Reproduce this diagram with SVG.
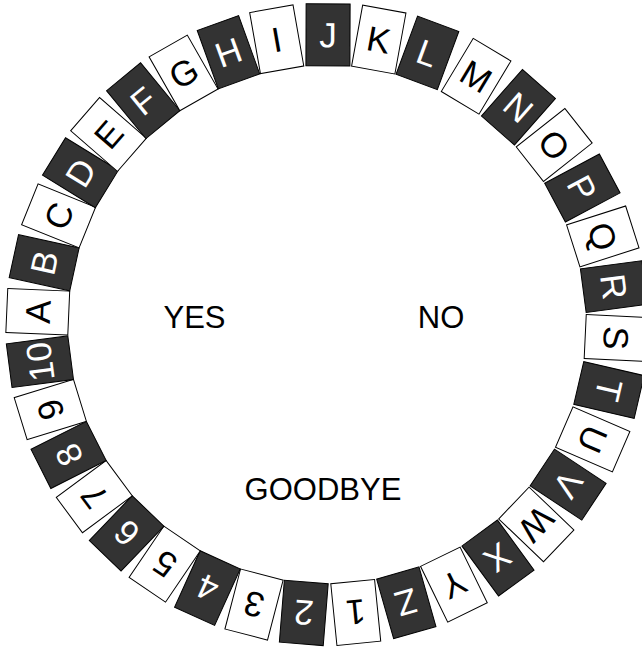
<svg xmlns="http://www.w3.org/2000/svg" width="642" height="647" viewBox="0 0 642 647">
<style>
.d rect,.l rect{stroke:#000;stroke-width:1}
.d rect{fill:#333}
.l rect{fill:#fff}
text{font-family:"Liberation Sans",Arial,sans-serif;text-anchor:middle}
.d text{fill:#fff;font-size:35px}
.l text{fill:#000;font-size:35px}
.c{fill:#000;font-size:31px}
</style>
<rect x="0" y="0" width="642" height="647" fill="#fff"/>
<g id="ring" transform="translate(327 324.4)">
<g id="node-J" class="d" transform="rotate(0.2)"><rect x="-22" y="-320.5" width="44" height="62"/><text y="-277">J</text></g>
<g id="node-K" class="l" transform="rotate(10.3)"><rect x="-22" y="-320.5" width="44" height="62"/><text y="-277">K</text></g>
<g id="node-L" class="d" transform="rotate(20.3)"><rect x="-22" y="-320.5" width="44" height="62"/><text y="-277">L</text></g>
<g id="node-M" class="l" transform="rotate(31)"><rect x="-22" y="-320.5" width="44" height="62"/><text y="-277">M</text></g>
<g id="node-N" class="d" transform="rotate(41.4)"><rect x="-22" y="-320.5" width="44" height="62"/><text y="-277">N</text></g>
<g id="node-O" class="l" transform="rotate(51.7)"><rect x="-22" y="-320.5" width="44" height="62"/><text y="-277">O</text></g>
<g id="node-P" class="d" transform="rotate(61.9)"><rect x="-22" y="-320.5" width="44" height="62"/><text y="-277">P</text></g>
<g id="node-Q" class="l" transform="rotate(72.3)"><rect x="-22" y="-320.5" width="44" height="62"/><text y="-277">Q</text></g>
<g id="node-R" class="d" transform="rotate(82.5)"><rect x="-22" y="-320.5" width="44" height="62"/><text y="-277">R</text></g>
<g id="node-S" class="l" transform="rotate(92.7)"><rect x="-22" y="-320.5" width="44" height="62"/><text y="-277">S</text></g>
<g id="node-T" class="d" transform="rotate(103.1)"><rect x="-22" y="-320.5" width="44" height="62"/><text y="-277">T</text></g>
<g id="node-U" class="l" transform="rotate(113.4)"><rect x="-22" y="-320.5" width="44" height="62"/><text y="-277">U</text></g>
<g id="node-V" class="d" transform="rotate(123.6)"><rect x="-22" y="-320.5" width="44" height="62"/><text y="-277">V</text></g>
<g id="node-W" class="l" transform="rotate(133.7)"><rect x="-22" y="-320.5" width="44" height="62"/><text y="-277">W</text></g>
<g id="node-X" class="d" transform="rotate(143.8)"><rect x="-22" y="-320.5" width="44" height="62"/><text y="-277">X</text></g>
<g id="node-Y" class="l" transform="rotate(154)"><rect x="-22" y="-320.5" width="44" height="62"/><text y="-277">Y</text></g>
<g id="node-Z" class="d" transform="rotate(164.1)"><rect x="-22" y="-320.5" width="44" height="62"/><text y="-277">Z</text></g>
<g id="node-1" class="l" transform="rotate(174.3)"><rect x="-22" y="-320.5" width="44" height="62"/><text y="-277">1</text></g>
<g id="node-2" class="d" transform="rotate(184.6)"><rect x="-22" y="-320.5" width="44" height="62"/><text y="-277">2</text></g>
<g id="node-3" class="l" transform="rotate(194.6)"><rect x="-22" y="-320.5" width="44" height="62"/><text y="-277">3</text></g>
<g id="node-4" class="d" transform="rotate(204.4)"><rect x="-22" y="-320.5" width="44" height="62"/><text y="-277">4</text></g>
<g id="node-5" class="l" transform="rotate(214.1)"><rect x="-22" y="-320.5" width="44" height="62"/><text y="-277">5</text></g>
<g id="node-6" class="d" transform="rotate(223.8)"><rect x="-22" y="-320.5" width="44" height="62"/><text y="-277">6</text></g>
<g id="node-7" class="l" transform="rotate(233.5)"><rect x="-22" y="-320.5" width="44" height="62"/><text y="-277">7</text></g>
<g id="node-8" class="d" transform="rotate(243.2)"><rect x="-22" y="-320.5" width="44" height="62"/><text y="-277">8</text></g>
<g id="node-9" class="l" transform="rotate(252.9)"><rect x="-22" y="-320.5" width="44" height="62"/><text y="-277">9</text></g>
<g id="node-10" class="d" transform="rotate(262.6)"><rect x="-22" y="-320.5" width="44" height="62"/><text y="-277">10</text></g>
<g id="node-A" class="l" transform="rotate(272.5)"><rect x="-22" y="-320.5" width="44" height="62"/><text y="-277">A</text></g>
<g id="node-B" class="d" transform="rotate(282.3)"><rect x="-22" y="-320.5" width="44" height="62"/><text y="-277">B</text></g>
<g id="node-C" class="l" transform="rotate(292)"><rect x="-22" y="-320.5" width="44" height="62"/><text y="-277">C</text></g>
<g id="node-D" class="d" transform="rotate(301.6)"><rect x="-22" y="-320.5" width="44" height="62"/><text y="-277">D</text></g>
<g id="node-E" class="l" transform="rotate(311)"><rect x="-22" y="-320.5" width="44" height="62"/><text y="-277">E</text></g>
<g id="node-F" class="d" transform="rotate(320.6)"><rect x="-22" y="-320.5" width="44" height="62"/><text y="-277">F</text></g>
<g id="node-G" class="l" transform="rotate(330.3)"><rect x="-22" y="-320.5" width="44" height="62"/><text y="-277">G</text></g>
<g id="node-H" class="d" transform="rotate(340.1)"><rect x="-22" y="-320.5" width="44" height="62"/><text y="-277">H</text></g>
<g id="node-I" class="l" transform="rotate(350)"><rect x="-22" y="-320.5" width="44" height="62"/><text y="-277">I</text></g>
</g>
<g id="node-yes"><text class="c" x="194.5" y="328">YES</text></g>
<g id="node-no"><text class="c" x="441" y="328">NO</text></g>
<g id="node-goodbye"><text class="c" x="323" y="500">GOODBYE</text></g>
</svg>
